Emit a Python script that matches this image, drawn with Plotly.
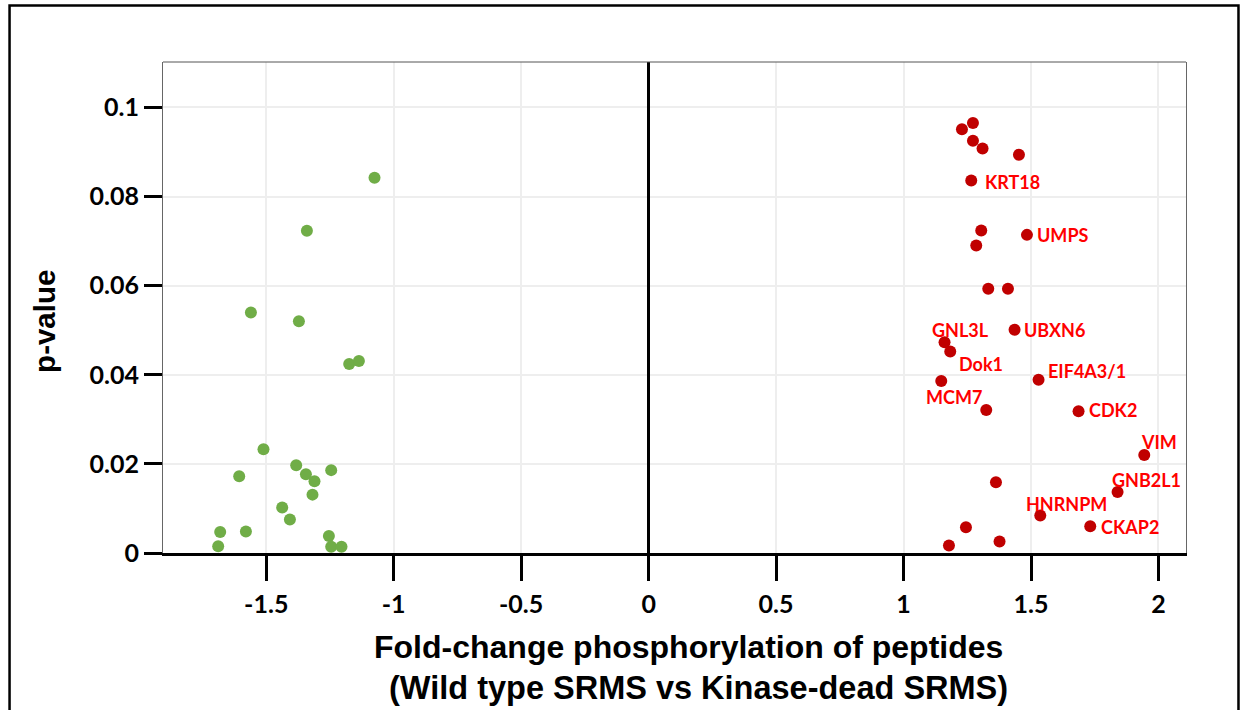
import plotly.graph_objects as go

# ---- data ----
down_fc = [-1.0753, -1.3405, -1.5602, -1.3719, -1.1746, -1.1365, -1.5108, -1.6061,
           -1.3825, -1.3444, -1.3107, -1.2452, -1.3186, -1.4374, -1.4072, -1.6807,
           -1.5798, -1.6885, -1.2542, -1.2452, -1.2048]
down_p = [0.0842, 0.0723, 0.0540, 0.0520, 0.0424, 0.0431, 0.0233, 0.0172,
          0.0197, 0.0177, 0.0161, 0.0186, 0.0131, 0.0102, 0.0075, 0.0047,
          0.0048, 0.0015, 0.0038, 0.0014, 0.0014]

up_fc = [1.2291, 1.2723, 1.2723, 1.3099, 1.4527, 1.2656, 1.3048, 1.2852, 1.4841,
         1.3323, 1.4096, 1.4355, 1.1608, 1.1832, 1.1479, 1.5296, 1.3244, 1.6865,
         1.9443, 1.3625, 1.8395, 1.5363, 1.7324, 1.2448, 1.3766, 1.1781]
up_p = [0.0951, 0.0965, 0.0925, 0.0908, 0.0894, 0.0836, 0.0724, 0.0690, 0.0714,
        0.0593, 0.0593, 0.0501, 0.0473, 0.0452, 0.0386, 0.0389, 0.0321, 0.0318,
        0.0220, 0.0159, 0.0137, 0.0084, 0.0060, 0.0058, 0.0026, 0.0017]
up_names = ["", "", "", "", "", "KRT18", "", "", "UMPS",
            "", "", "UBXN6", "GNL3L", "Dok1", "MCM7", "EIF4A3/1", "", "CDK2",
            "VIM", "", "GNB2L1", "HNRNPM", "CKAP2", "", "", ""]

x_tickvals = [-1.5, -1, -0.5, 0, 0.5, 1, 1.5, 2]
x_ticktext = ["-1.5", "-1", "-0.5", "0", "0.5", "1", "1.5", "2"]
y_tickvals = [0, 0.02, 0.04, 0.06, 0.08, 0.1]
y_ticktext = ["0", "0.02", "0.04", "0.06", "0.08", "0.1"]

# label placement relative to its point: (xanchor, xshift px, yshift px)
label_place = {
    "KRT18": ("left", 12, -1),
    "UMPS": ("left", 8, 0),
    "UBXN6": ("left", 7, 0),
    "GNL3L": ("center", 16, 12),
    "Dok1": ("left", 7, -12),
    "MCM7": ("center", 13, -16),
    "EIF4A3/1": ("left", 7, 9),
    "CDK2": ("left", 8, 1),
    "VIM": ("center", 15, 13),
    "GNB2L1": ("center", 29, 12),
    "HNRNPM": ("center", 26, 12),
    "CKAP2": ("left", 9, -1),
}

TICKFONT = "Lato, 'Open Sans', sans-serif"
TITLEFONT = "'Liberation Sans', Arial, sans-serif"

fig = go.Figure()
fig.add_trace(go.Scatter(x=down_fc, y=down_p, mode="markers",
                         marker=dict(color="#70AD47", size=12), showlegend=False))
fig.add_trace(go.Scatter(x=up_fc, y=up_p, mode="markers",
                         marker=dict(color="#C00000", size=12), showlegend=False))

annotations = []
for xv, yv, nm in zip(up_fc, up_p, up_names):
    if not nm:
        continue
    anc, xs, ys = label_place[nm]
    annotations.append(dict(x=xv, y=yv, xref="x", yref="y", text=nm, showarrow=False,
                            xanchor=anc, yanchor="middle", xshift=xs, yshift=ys,
                            font=dict(family=TICKFONT, size=18, color="#FF0000", weight="bold")))

annotations.append(dict(x=-0.1153, y=0.4708, xref="paper", yref="paper", text="<b>p-value</b>",
                        textangle=-90, showarrow=False, xanchor="center", yanchor="middle",
                        font=dict(family=TITLEFONT, size=29.5, color="black")))
annotations.append(dict(x=0.5137, y=-0.1907, xref="paper", yref="paper",
                        text="<b>Fold-change phosphorylation of peptides</b>",
                        showarrow=False, xanchor="center", yanchor="middle",
                        font=dict(family=TITLEFONT, size=32, color="black")))
annotations.append(dict(x=0.523, y=-0.274, xref="paper", yref="paper",
                        text="<b>(Wild type SRMS vs Kinase-dead SRMS)</b>",
                        showarrow=False, xanchor="center", yanchor="middle",
                        font=dict(family=TITLEFONT, size=32.5, color="black")))

shapes = [
    # outer frame
    dict(type="rect", xref="paper", yref="paper", x0=-0.150, x1=1.0513, y0=-0.35, y1=1.115,
         line=dict(color="black", width=2.5), fillcolor="rgba(0,0,0,0)", layer="below"),
    # thin top border of plot box
    dict(type="line", xref="paper", yref="paper", x0=0, x1=1, y0=1, y1=1,
         line=dict(color="#555555", width=1)),
]

fig.update_layout(
    width=1241, height=710,
    margin=dict(l=163, r=55, t=62, b=157),
    paper_bgcolor="white", plot_bgcolor="white",
    annotations=annotations, shapes=shapes,
    xaxis=dict(range=[-1.905, 2.108], tickvals=x_tickvals, ticktext=x_ticktext,
               showgrid=True, gridcolor="#EEEEEE", gridwidth=1.5,
               zeroline=True, zerolinecolor="black", zerolinewidth=3,
               showline=True, linecolor="black", linewidth=3,
               ticks="outside", ticklen=25, tickwidth=3, tickcolor="black",
               ticklabelstandoff=2,
               tickfont=dict(family=TICKFONT, size=25, color="black", weight="bold")),
    yaxis=dict(range=[0, 0.1102], tickvals=y_tickvals, ticktext=y_ticktext,
               showgrid=True, gridcolor="#EEEEEE", gridwidth=1.5,
               zeroline=False,
               showline=True, linecolor="#666666", linewidth=1, mirror=True,
               ticks="outside", ticklen=18, tickwidth=3, tickcolor="black",
               tickfont=dict(family=TICKFONT, size=25, color="black", weight="bold")),
)

fig.write_html("out.html", config={"displayModeBar": False},
               post_script="document.body.style.margin='0';document.body.style.overflow='hidden';")
